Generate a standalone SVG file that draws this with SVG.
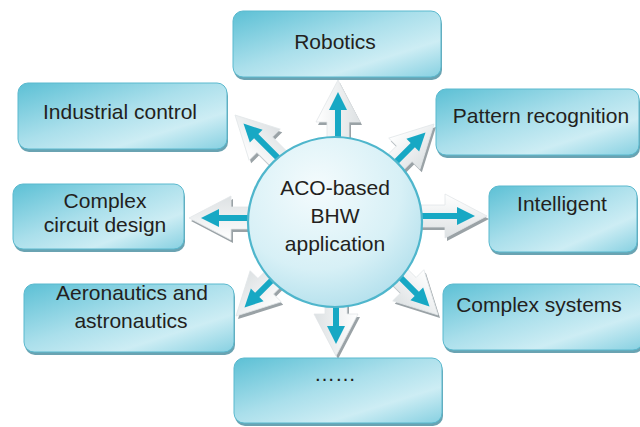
<svg xmlns="http://www.w3.org/2000/svg" xmlns:xlink="http://www.w3.org/1999/xlink" width="640" height="427" viewBox="0 0 640 427">
<style>
.bg{fill:#ffffff}
.box{fill:url(#boxGrad);stroke:#5ab9ce;stroke-width:1}
.boxsh{fill:#6aa3b2}
.label{font-family:"Liberation Sans",Arial,sans-serif;font-size:21px;fill:#231f20;text-anchor:middle}
.sh{fill:#9aa2a6}
.wh{fill:url(#arrowGrad);stroke:#e2e6e8;stroke-width:0.8}
.tl{fill:#17a8c4}
.hub{fill:url(#hubGrad);stroke:#4fb6cc;stroke-width:2.2}
</style>
<defs>
<linearGradient id="boxGrad" x1="0" y1="0" x2="1" y2="1">
<stop offset="0" stop-color="#5cc0d5"/>
<stop offset="0.45" stop-color="#aadfeb"/>
<stop offset="0.72" stop-color="#cdedf4"/>
<stop offset="1" stop-color="#86d0e1"/>
</linearGradient>
<linearGradient id="arrowGrad" x1="0" y1="0" x2="0" y2="1">
<stop offset="0" stop-color="#ffffff"/>
<stop offset="1" stop-color="#dde1e3"/>
</linearGradient>
<radialGradient id="hubGrad" cx="0.4" cy="0.3" r="0.8">
<stop offset="0" stop-color="#f4fbfd"/>
<stop offset="0.6" stop-color="#d7f0f6"/>
<stop offset="1" stop-color="#aadcea"/>
</radialGradient>
<polygon id="wa" points="0,0 -42,-22 -42,-11 -100,-11 -100,11 -42,11 -42,22"/>
<polygon id="ta" points="-12,0 -30,-9 -30,-3 -100,-3 -100,3 -30,3 -30,9"/>
</defs>
<rect class="bg" x="0" y="0" width="640" height="427"/>
<g id="connectors">
<g transform="translate(338,80)"><use xlink:href="#wa" class="sh" transform="translate(2,3) rotate(-90)"/><use xlink:href="#wa" class="wh" transform="rotate(-90)"/><use xlink:href="#ta" class="tl" transform="rotate(-90)"/></g>
<g transform="translate(235,115)"><use xlink:href="#wa" class="sh" transform="translate(2,3) rotate(-135)"/><use xlink:href="#wa" class="wh" transform="rotate(-135)"/><use xlink:href="#ta" class="tl" transform="rotate(-135)"/></g>
<g transform="translate(189,218)"><use xlink:href="#wa" class="sh" transform="translate(2,3) rotate(180)"/><use xlink:href="#wa" class="wh" transform="rotate(180)"/><use xlink:href="#ta" class="tl" transform="rotate(180)"/></g>
<g transform="translate(236,316)"><use xlink:href="#wa" class="sh" transform="translate(2,3) rotate(135)"/><use xlink:href="#wa" class="wh" transform="rotate(135)"/><use xlink:href="#ta" class="tl" transform="rotate(135)"/></g>
<g transform="translate(336,356)"><use xlink:href="#wa" class="sh" transform="translate(2,3) rotate(90)"/><use xlink:href="#wa" class="wh" transform="rotate(90)"/><use xlink:href="#ta" class="tl" transform="rotate(90)"/></g>
<g transform="translate(438,315)"><use xlink:href="#wa" class="sh" transform="translate(2,3) rotate(45)"/><use xlink:href="#wa" class="wh" transform="rotate(45)"/><use xlink:href="#ta" class="tl" transform="rotate(45)"/></g>
<g transform="translate(487,216)"><use xlink:href="#wa" class="sh" transform="translate(2,3) rotate(0)"/><use xlink:href="#wa" class="wh" transform="rotate(0)"/><use xlink:href="#ta" class="tl" transform="rotate(0)"/></g>
<g transform="translate(434,124)"><use xlink:href="#wa" class="sh" transform="translate(2,3) rotate(-45)"/><use xlink:href="#wa" class="wh" transform="rotate(-45)"/><use xlink:href="#ta" class="tl" transform="rotate(-45)"/></g>
</g>
<g id="hub">
<ellipse class="hub" cx="335" cy="222" rx="87" ry="85"/>
<text class="label" x="335" y="195">ACO-based</text>
<text class="label" x="335" y="223">BHW</text>
<text class="label" x="335" y="251">application</text>
</g>
<g id="robotics">
<rect class="boxsh" x="234" y="14" width="208" height="66" rx="10"/>
<rect class="box" x="233" y="11" width="208" height="66" rx="10"/>
<text class="label" x="335" y="49">Robotics</text>
</g>
<g id="industrial-control">
<rect class="boxsh" x="19" y="86" width="209" height="66" rx="10"/>
<rect class="box" x="18" y="83" width="209" height="66" rx="10"/>
<text class="label" x="120" y="119">Industrial control</text>
</g>
<g id="complex-circuit-design">
<rect class="boxsh" x="14" y="187" width="171" height="65" rx="10"/>
<rect class="box" x="13" y="184" width="171" height="65" rx="10"/>
<text class="label" x="105" y="208">Complex</text>
<text class="label" x="105" y="232">circuit design</text>
</g>
<g id="aeronautics">
<rect class="boxsh" x="25" y="287" width="210" height="68" rx="10"/>
<rect class="box" x="24" y="284" width="210" height="68" rx="10"/>
<text class="label" x="132" y="300">Aeronautics and</text>
<text class="label" x="131" y="328">astronautics</text>
</g>
<g id="more">
<rect class="boxsh" x="235" y="361" width="208" height="65" rx="10"/>
<rect class="box" x="234" y="358" width="208" height="65" rx="10"/>
<text class="label" x="335" y="381">……</text>
</g>
<g id="pattern-recognition">
<rect class="boxsh" x="437" y="92" width="203" height="66" rx="10"/>
<rect class="box" x="436" y="89" width="203" height="66" rx="10"/>
<text class="label" x="541" y="123">Pattern recognition</text>
</g>
<g id="intelligent">
<rect class="boxsh" x="490" y="189" width="148" height="66" rx="10"/>
<rect class="box" x="489" y="186" width="148" height="66" rx="10"/>
<text class="label" x="562" y="211">Intelligent</text>
</g>
<g id="complex-systems">
<rect class="boxsh" x="444" y="287" width="200" height="66" rx="10"/>
<rect class="box" x="443" y="284" width="200" height="66" rx="10"/>
<text class="label" x="539" y="312">Complex systems</text>
</g>
</svg>
